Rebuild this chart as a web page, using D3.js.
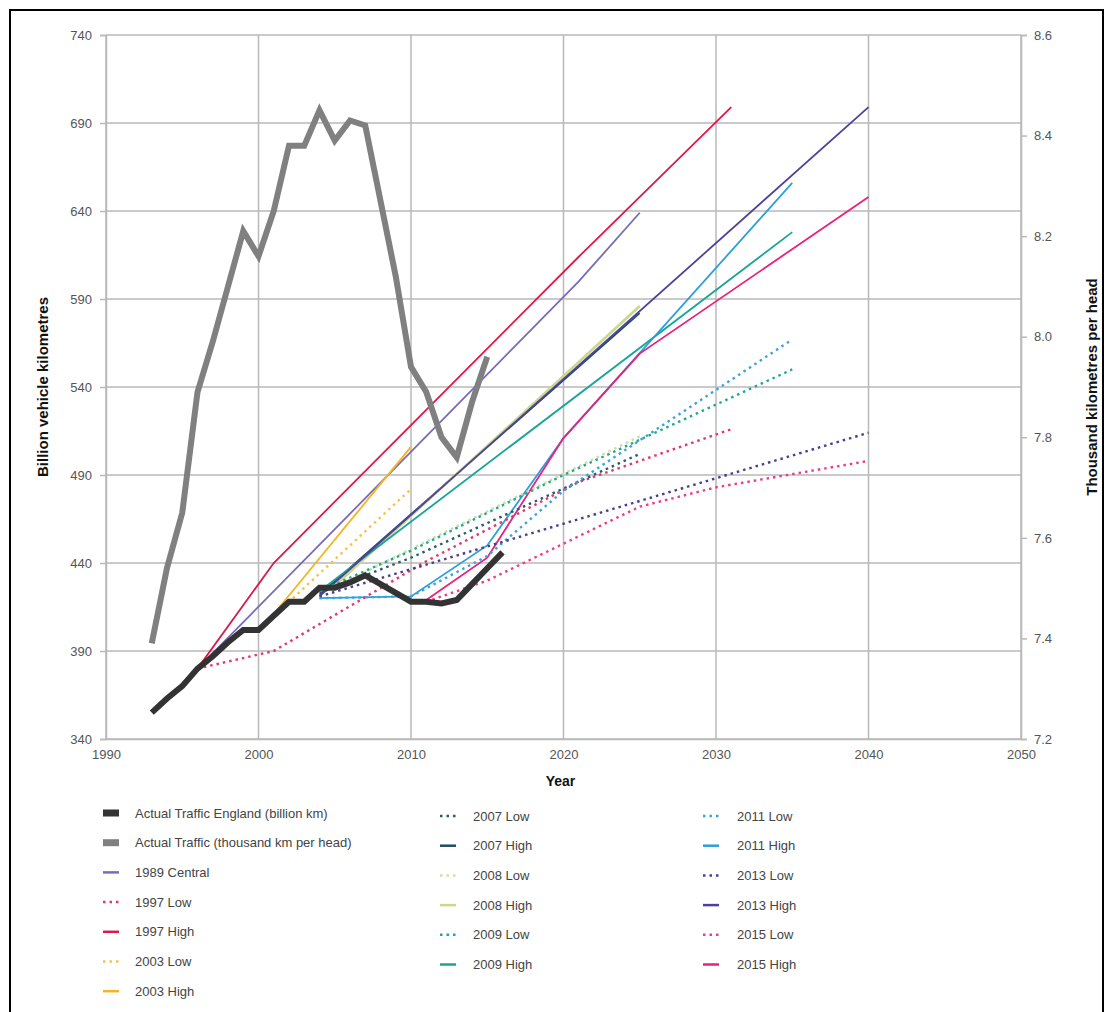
<!DOCTYPE html>
<html>
<head>
<meta charset="utf-8">
<script src="https://cdn.jsdelivr.net/npm/d3@7"></script>
<style>
  html, body { margin: 0; padding: 0; background: #fff; }
  svg { display: block; font-family: "Liberation Sans", Arial, Helvetica, sans-serif; }
</style>
</head>
<body>
<svg id="chart" width="1106" height="1012"></svg>
<script>
// ---------------- DATA ----------------
const xTicks = [1990, 2000, 2010, 2020, 2030, 2040, 2050];
const leftTicks = [340, 390, 440, 490, 540, 590, 640, 690, 740];
const rightTicks = [7.2, 7.4, 7.6, 7.8, 8.0, 8.2, 8.4, 8.6];

const actualYears = [1993, 1994, 1995, 1996, 1997, 1998, 1999, 2000, 2001, 2002, 2003, 2004, 2005, 2006, 2007, 2008, 2009, 2010, 2011, 2012, 2013, 2014, 2015, 2016];
const actualEngland = [355, 363, 370, 380, 387, 395, 402, 402, 410, 418, 418, 426, 426, 429, 433, 428, 423, 418, 418, 417, 419, 428, 437, 446];

const perHeadYears = [1993, 1994, 1995, 1996, 1997, 1998, 1999, 2000, 2001, 2002, 2003, 2004, 2005, 2006, 2007, 2008, 2009, 2010, 2011, 2012, 2013, 2014, 2015];
const perHead = [7.39, 7.54, 7.65, 7.89, 7.99, 8.10, 8.21, 8.16, 8.25, 8.38, 8.38, 8.45, 8.39, 8.43, 8.42, 8.27, 8.12, 7.94, 7.89, 7.80, 7.76, 7.87, 7.96];

const c1989Years = [1996, 2021, 2025];          const c1989Central = [380, 600, 639];
const f1997Years = [1996, 2001, 2011, 2021, 2031];
const f1997Low  = [380, 390, 441, 486, 516];
const f1997High = [380, 440, 527, 614, 699];
const f2003Years = [2001, 2010];
const f2003Low  = [410, 482];
const f2003High = [411, 506];
const f2007LowYears = [2004, 2010, 2025];       const f2007Low = [423, 443, 502];
const f2007HighYears = [2004, 2025];            const f2007High = [422, 582];
const f2008LowYears = [2005, 2010, 2025];       const f2008Low = [426, 448, 512];
const f2008HighYears = [2005, 2025];            const f2008High = [427, 586];
const f2009LowYears = [2004, 2010, 2020, 2035]; const f2009Low = [424, 447, 490, 550];
const f2009HighYears = [2004, 2035];            const f2009High = [424, 628];
const f2011Years = [2004, 2010, 2015, 2020, 2035];
const f2011Low  = [420, 421, 444, 481, 567];
const f2011High = [420, 421, 450, 511, 656];
const f2013Years = [2004, 2040];
const f2013Low  = [421, 514];
const f2013High = [421, 699];
const f2015LowYears = [2011, 2015, 2020, 2025, 2030, 2040]; const f2015Low = [418, 430, 451, 472, 483, 498];
const f2015HighYears = [2011, 2015, 2020, 2025, 2040];      const f2015High = [419, 443, 511, 559, 648];

// series: name, years, values, colour, kind
const series = [
  { name: "Actual Traffic England (billion km)", years: actualYears, values: actualEngland, color: "#333333", kind: "thick", axis: "L" },
  { name: "Actual Traffic (thousand km per head)", years: perHeadYears, values: perHead, color: "#808080", kind: "thick", axis: "R" },
  { name: "1989 Central", years: c1989Years, values: c1989Central, color: "#7b6ab8", kind: "solid" },
  { name: "1997 Low",  years: f1997Years, values: f1997Low,  color: "#e2386e", kind: "dot" },
  { name: "1997 High", years: f1997Years, values: f1997High, color: "#d81c4a", kind: "solid" },
  { name: "2003 Low",  years: f2003Years, values: f2003Low,  color: "#f6c24a", kind: "dot" },
  { name: "2003 High", years: f2003Years, values: f2003High, color: "#f3b521", kind: "solid" },
  { name: "2007 Low",  years: f2007LowYears, values: f2007Low,  color: "#2a5a68", kind: "dot" },
  { name: "2007 High", years: f2007HighYears, values: f2007High, color: "#1f4f63", kind: "solid" },
  { name: "2008 Low",  years: f2008LowYears, values: f2008Low,  color: "#d3dca6", kind: "dot" },
  { name: "2008 High", years: f2008HighYears, values: f2008High, color: "#c8d98c", kind: "solid" },
  { name: "2009 Low",  years: f2009LowYears, values: f2009Low,  color: "#1ea88f", kind: "dot" },
  { name: "2009 High", years: f2009HighYears, values: f2009High, color: "#18a596", kind: "solid" },
  { name: "2011 Low",  years: f2011Years, values: f2011Low,  color: "#3aa4da", kind: "dot" },
  { name: "2011 High", years: f2011Years, values: f2011High, color: "#2d9fdd", kind: "solid" },
  { name: "2013 Low",  years: f2013Years, values: f2013Low,  color: "#4d3d8e", kind: "dot" },
  { name: "2013 High", years: f2013Years, values: f2013High, color: "#523f9b", kind: "solid" },
  { name: "2015 Low",  years: f2015LowYears, values: f2015Low,  color: "#ec3c88", kind: "dot" },
  { name: "2015 High", years: f2015HighYears, values: f2015High, color: "#e8217f", kind: "solid" }
];

// ---------------- CHART ----------------
(function () {
const svg = d3.select("#chart");
const pLeft = 106, pRight = 1021, pTop = 35, pBottom = 739;

const x = d3.scaleLinear().domain([1990, 2050]).range([pLeft, pRight]);
const yL = d3.scaleLinear().domain([340, 740]).range([pBottom, pTop]);
const yR = d3.scaleLinear().domain([7.2, 8.6]).range([pBottom, pTop]);

// frame
svg.append("rect").attr("x", 10).attr("y", 10).attr("width", 1093).attr("height", 1010)
  .attr("fill", "none").attr("stroke", "#000").attr("stroke-width", 2);

const gridColor = "#b9b9b9";
// grid
svg.append("g").selectAll("line").data(leftTicks).join("line")
  .attr("x1", pLeft).attr("x2", pRight).attr("y1", d => yL(d)).attr("y2", d => yL(d))
  .attr("stroke", gridColor).attr("stroke-width", 1.5);
svg.append("g").selectAll("line").data(xTicks).join("line")
  .attr("x1", d => x(d)).attr("x2", d => x(d)).attr("y1", pTop).attr("y2", pBottom)
  .attr("stroke", gridColor).attr("stroke-width", 1.5);

// axes
const axL = svg.append("g").attr("transform", `translate(${pLeft},0)`)
  .call(d3.axisLeft(yL).tickValues(leftTicks).tickSize(6).tickPadding(8).tickFormat(d3.format("d")));
const axR = svg.append("g").attr("transform", `translate(${pRight},0)`)
  .call(d3.axisRight(yR).tickValues(rightTicks).tickSize(6).tickPadding(7).tickFormat(d3.format(".1f")));
const axB = svg.append("g").attr("transform", `translate(0,${pBottom})`)
  .call(d3.axisBottom(x).tickValues(xTicks).tickSize(0).tickPadding(11).tickFormat(d3.format("d")));

[axL, axR, axB].forEach(a => {
  a.select(".domain").attr("stroke", gridColor).attr("stroke-width", 1.5);
  a.selectAll(".tick line").attr("stroke", gridColor).attr("stroke-width", 1.5);
  a.selectAll(".tick text").attr("fill", "#555").attr("font-size", 13)
    .attr("font-family", "'Liberation Sans', Arial, sans-serif");
});

// axis titles
svg.append("text").attr("transform", `translate(48,${(pTop + pBottom) / 2}) rotate(-90)`)
  .attr("text-anchor", "middle").attr("font-size", 15).attr("font-weight", "bold").attr("fill", "#111")
  .text("Billion vehicle kilometres");
svg.append("text").attr("transform", `translate(1097,${(pTop + pBottom) / 2}) rotate(-90)`)
  .attr("text-anchor", "middle").attr("font-size", 15).attr("font-weight", "bold").attr("fill", "#111")
  .text("Thousand kilometres per head");
svg.append("text").attr("x", x(2020) - 3).attr("y", 786)
  .attr("text-anchor", "middle").attr("font-size", 14).attr("font-weight", "bold").attr("fill", "#111")
  .text("Year");

// lines
const plot = svg.append("g");
const lineFor = s => d3.line()
  .x((d, i) => x(s.years[i]))
  .y(d => (s.axis === "R" ? yR(d) : yL(d)));

const projections = series.filter(s => s.kind !== "thick");
projections.filter(s => s.kind === "solid").forEach(s => {
  plot.append("path").datum(s.values).attr("d", lineFor(s))
    .attr("fill", "none").attr("stroke", s.color).attr("stroke-width", s.name.startsWith("2008") ? 2.6 : 1.8);
});
projections.filter(s => s.kind === "dot").forEach(s => {
  plot.append("path").datum(s.values).attr("d", lineFor(s))
    .attr("fill", "none").attr("stroke", s.color).attr("stroke-width", 2.4)
    .attr("stroke-dasharray", "2.5,4");
});
["R", "L"].forEach(ax => {
  const s = series.find(t => t.kind === "thick" && t.axis === ax);
  plot.append("path").datum(s.values).attr("d", lineFor(s))
    .attr("fill", "none").attr("stroke", s.color).attr("stroke-width", 6)
    .attr("stroke-linejoin", "miter");
});

// legend
const colDefs = [
  { swX: 103, txtX: 135, y0: 813, items: series.slice(0, 7) },
  { swX: 440, txtX: 473, y0: 816, items: series.slice(7, 13) },
  { swX: 703, txtX: 737, y0: 816, items: series.slice(13, 19) }
];
const rowH = 29.7;
colDefs.forEach(col => {
  const g = svg.append("g");
  col.items.forEach((s, i) => {
    const cy = col.y0 + i * rowH;
    if (s.kind === "thick") {
      g.append("rect").attr("x", col.swX).attr("y", cy - 3.5).attr("width", 16).attr("height", 7).attr("fill", s.color);
    } else if (s.kind === "solid") {
      g.append("line").attr("x1", col.swX).attr("x2", col.swX + 16).attr("y1", cy).attr("y2", cy)
        .attr("stroke", s.color).attr("stroke-width", 2.5);
    } else {
      g.append("line").attr("x1", col.swX).attr("x2", col.swX + 16).attr("y1", cy).attr("y2", cy)
        .attr("stroke", s.color).attr("stroke-width", 2.5).attr("stroke-dasharray", "2.5,4");
    }
    g.append("text").attr("x", col.txtX).attr("y", cy + 4.5).attr("font-size", 13).attr("fill", "#444")
      .text(s.name);
  });
});
})();
</script>
</body>
</html>
